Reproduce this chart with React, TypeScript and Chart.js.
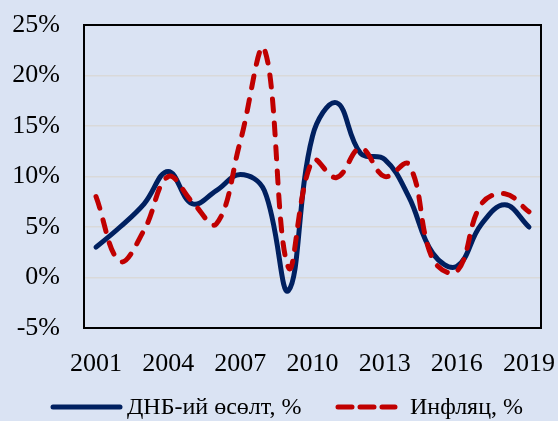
import React, { useEffect, useRef } from "react";
import { Chart, registerables } from "chart.js";

Chart.register(...registerables);

const years = [
  "2001", "2002", "2003", "2004", "2005", "2006", "2007", "2008", "2009", "2010",
  "2011", "2012", "2013", "2014", "2015", "2016", "2017", "2018", "2019",
];
const gdpGrowth = [3.0, 5.0, 7.3, 10.5, 7.3, 8.6, 10.2, 8.6, -1.3, 14.0, 17.3, 12.3, 11.7, 8.0, 2.4, 1.1, 5.2, 7.2, 5.0];
const inflation = [8.0, 1.6, 4.7, 10.0, 7.5, 5.3, 13.5, 22.6, 1.0, 11.6, 9.9, 12.8, 10.0, 11.2, 1.8, 0.6, 7.2, 8.3, 6.5];
const seriesLabels = ["ДНБ-ий өсөлт, %", "Инфляц, %"];
const yMin = -5;
const yMax = 25;
const yStep = 5;

const FONT = "'Liberation Serif', 'Times New Roman', serif";

const framePlugin = {
  id: "frame",
  afterDatasetsDraw(chart: any) {
    const { ctx, chartArea: a } = chart;
    ctx.save();
    ctx.strokeStyle = "#000000";
    ctx.lineWidth = 2;
    ctx.strokeRect(a.left, a.top, a.right - a.left, a.bottom - a.top);
    ctx.restore();
  },
};

// legend drawn on the canvas, styled from the datasets
const legendLayout = [
  { x: 53, sample: 67, textGap: 7 },
  { x: 338, sample: 57, textGap: 15 },
];
const legendY = 407;

const seriesLegendPlugin = {
  id: "seriesLegend",
  afterDraw(chart: any) {
    const { ctx } = chart;
    ctx.save();
    chart.data.datasets.forEach((ds: any, i: number) => {
      const pos = legendLayout[i];
      ctx.beginPath();
      ctx.strokeStyle = ds.borderColor;
      ctx.lineWidth = ds.borderWidth;
      ctx.lineCap = ds.borderCapStyle || "butt";
      ctx.setLineDash(ds.borderDash ? [ds.borderDash[0] + 2, ds.borderDash[1] - 4] : []);
      ctx.moveTo(pos.x, legendY);
      ctx.lineTo(pos.x + pos.sample, legendY);
      ctx.stroke();
      ctx.setLineDash([]);
      ctx.fillStyle = "#000000";
      ctx.font = `24px ${FONT}`;
      ctx.textBaseline = "middle";
      ctx.textAlign = "left";
      ctx.fillText(ds.label, pos.x + pos.sample + pos.textGap, legendY + 1);
    });
    ctx.restore();
  },
};

export default function App() {
  const ref = useRef<HTMLCanvasElement>(null);

  useEffect(() => {
    if (!ref.current) return;
    const chart = new Chart(ref.current, {
      type: "line",
      data: {
        labels: years,
        datasets: [
          {
            label: seriesLabels[0],
            data: gdpGrowth,
            borderColor: "#002060",
            backgroundColor: "#002060",
            borderWidth: 5,
            borderCapStyle: "round",
            borderJoinStyle: "round",
            pointRadius: 0,
            tension: 0.4,
            fill: false,
            order: 1,
          },
          {
            label: seriesLabels[1],
            data: inflation,
            borderColor: "#C00000",
            backgroundColor: "#C00000",
            borderWidth: 5,
            borderDash: [12, 12],
            borderCapStyle: "round",
            borderJoinStyle: "round",
            pointRadius: 0,
            tension: 0.4,
            fill: false,
            order: 0,
          },
        ],
      },
      options: {
        responsive: false,
        animation: false,
        layout: { padding: { top: 25, right: 0, left: 0, bottom: 0 } },
        scales: {
          x: {
            offset: true,
            afterFit: (scale: any) => {
              scale.height = 93;
              scale.paddingLeft = 0;
              scale.paddingRight = 17;
            },
            grid: { display: false },
            border: { display: false },
            ticks: {
              autoSkip: false,
              maxRotation: 0,
              padding: 13,
              color: "#000000",
              font: { family: FONT, size: 26 },
              callback: (_v: any, i: number) => (i % 3 === 0 ? years[i] : null),
            },
          },
          y: {
            min: yMin,
            max: yMax,
            afterFit: (scale: any) => {
              scale.width = 84;
              scale.paddingTop = 0;
              scale.paddingBottom = 0;
            },
            grid: {
              drawTicks: false,
              color: (c: any) =>
                c.tick && (c.tick.value === yMin || c.tick.value === yMax)
                  ? "rgba(0,0,0,0)"
                  : "#D9D9D9",
              lineWidth: 1.5,
            },
            border: { display: false },
            ticks: {
              stepSize: yStep,
              padding: 24,
              color: "#000000",
              font: { family: FONT, size: 26 },
              callback: (v: any) => `${v}%`,
            },
          },
        },
        plugins: {
          tooltip: { enabled: false },
          legend: { display: false },
        },
      },
      plugins: [framePlugin, seriesLegendPlugin],
    } as any);
    return () => chart.destroy();
  }, []);

  return (
    <div
      style={{
        position: "absolute",
        left: 0,
        top: 0,
        width: 558,
        height: 421,
        overflow: "hidden",
        background: "#DAE3F3",
      }}
    >
      <canvas ref={ref} width={558} height={421} />
    </div>
  );
}
